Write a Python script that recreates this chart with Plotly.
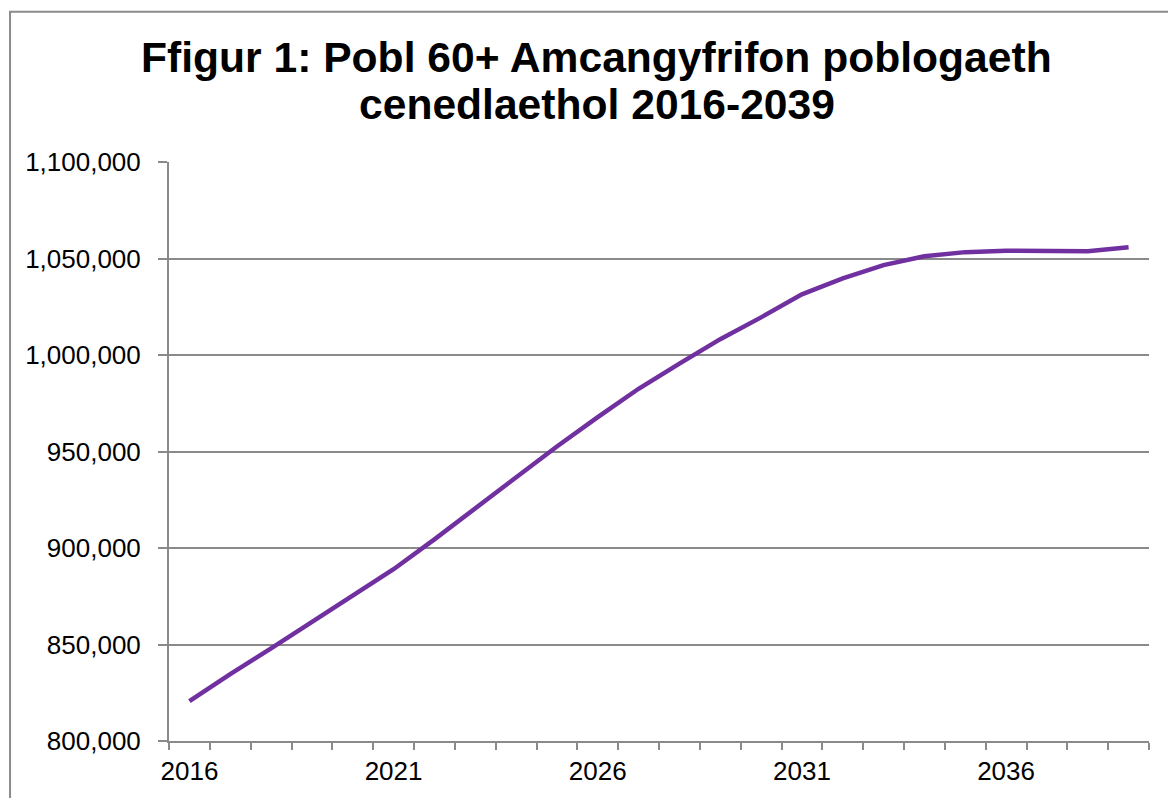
import plotly.graph_objects as go

years = list(range(2016, 2040))
population_60_plus = [
    820600, 834700, 848000, 861800, 875100, 889000, 904500, 920500,
    936800, 952600, 967800, 982500, 995500, 1008200, 1019500, 1031400,
    1039700, 1046600, 1051200, 1053300, 1054000, 1054100, 1053800, 1055800,
]
x_tick_years = [2016, 2021, 2026, 2031, 2036]
y_tick_values = [800000, 850000, 900000, 950000, 1000000, 1050000, 1100000]
title_line1 = "Ffigur 1: Pobl 60+ Amcangyfrifon poblogaeth"
title_line2 = "cenedlaethol 2016-2039"

GREY = "#8a8a8a"
FONT = "Liberation Sans, Arial, sans-serif"

fig = go.Figure()
fig.add_trace(go.Scatter(
    x=years, y=population_60_plus, mode="lines",
    line=dict(color="#7030A0", width=4.5),
    showlegend=False, hoverinfo="x+y",
))

fig.update_layout(
    width=1168, height=790,
    margin=dict(l=161, r=27, t=154, b=54),
    paper_bgcolor="white", plot_bgcolor="white",
    font=dict(family=FONT, color="black", size=26),
    showlegend=False,
)

fig.update_xaxes(
    range=[2015.5, 2039.5],
    tickvals=x_tick_years,
    ticktext=[str(v) for v in x_tick_years],
    ticks="outside", ticklen=6, tickcolor="rgba(0,0,0,0)",
    tickfont=dict(family=FONT, size=26, color="black"),
    showgrid=False, zeroline=False,
    showline=True, linecolor=GREY, linewidth=2,
    minor=dict(tick0=2015.5, dtick=1, ticks="outside", ticklen=7,
               tickcolor=GREY, tickwidth=2, showgrid=False),
)
fig.update_yaxes(
    range=[800000, 1100000],
    tickvals=y_tick_values,
    tickformat=",",
    ticks="outside", ticklen=9, tickcolor=GREY, tickwidth=2,
    ticklabelstandoff=12,
    tickfont=dict(family=FONT, size=26, color="black"),
    showgrid=True, gridcolor=GREY, gridwidth=1.5,
    zeroline=False,
    showline=True, linecolor=GREY, linewidth=2,
)

# title lines
fig.add_annotation(text="<b>" + title_line1 + "</b>", xref="paper", yref="paper",
                   x=0.4367, y=1.1813, xanchor="center", yanchor="middle",
                   showarrow=False, font=dict(family=FONT, size=42.6, color="black"))
fig.add_annotation(text="<b>" + title_line2 + "</b>", xref="paper", yref="paper",
                   x=0.4367, y=1.1005, xanchor="center", yanchor="middle",
                   showarrow=False, font=dict(family=FONT, size=42.6, color="black"))

# chart area border
fig.add_shape(type="rect", xref="paper", yref="paper",
              x0=-0.1622, y0=-0.3, x1=1.2, y1=1.2595,
              line=dict(color=GREY, width=2), fillcolor="rgba(0,0,0,0)", layer="below")

fig.write_html("out.html")
